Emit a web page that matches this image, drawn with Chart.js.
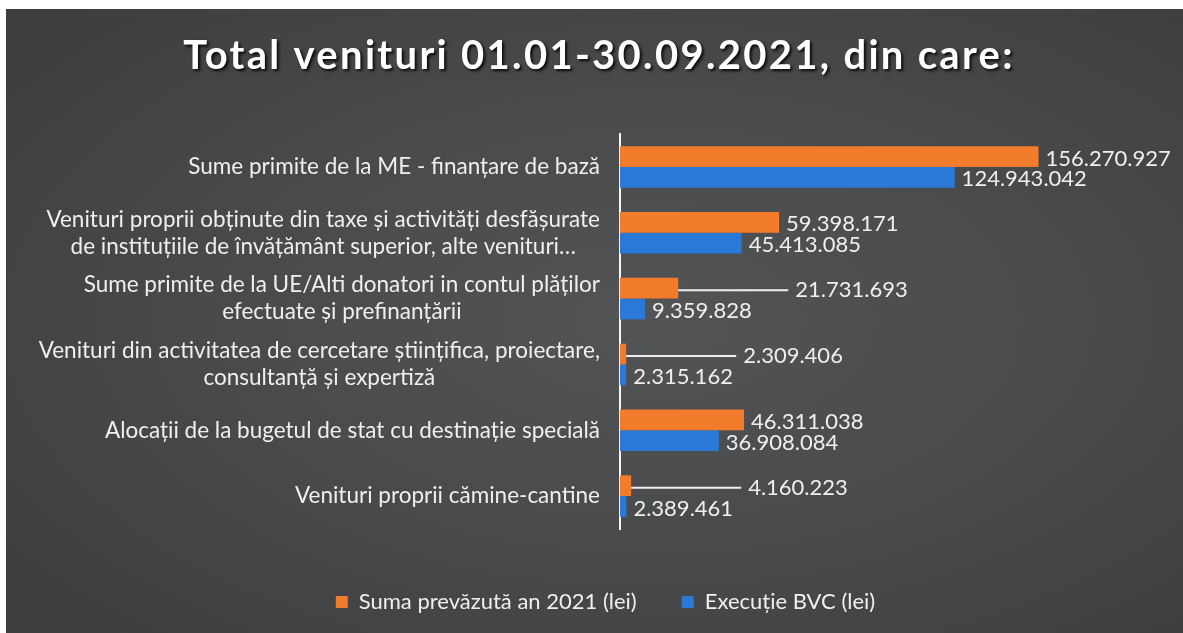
<!DOCTYPE html>
<html><head><meta charset="utf-8">
<script src="https://cdn.jsdelivr.net/npm/chart.js@4.4.0/dist/chart.umd.min.js"></script>
<style>
html,body{margin:0;padding:0;background:#ffffff;width:1183px;height:633px;overflow:hidden}
#wrap{position:absolute;left:6px;top:9px;width:1177px;height:624px;
background:radial-gradient(ellipse 70% 70% at 55% 50%, #535455 0%, #48494a 55%, #3c3e3f 100%);}
</style></head><body><div id="wrap"><canvas id="c"></canvas></div>
<script>
const titleText = 'Total venituri 01.01-30.09.2021, din care:';
const categories = [
  'Sume primite de la ME - finanțare de bază',
  ['Venituri proprii obținute din taxe și activități desfășurate', 'de instituțiile de învățământ superior, alte venituri…'],
  ['Sume primite de la UE/Alti donatori in contul plăților', 'efectuate și prefinanțării'],
  ['Venituri din activitatea de cercetare științifica, proiectare,', 'consultanță și expertiză'],
  'Alocații de la bugetul de stat cu destinație specială',
  'Venituri proprii cămine-cantine'
];
const seriesNames = ['Suma prevăzută an 2021 (lei)', 'Execuție BVC (lei)'];
const plannedValues = [156270927, 59398171, 21731693, 2309406, 46311038, 4160223];
const executedValues = [124943042, 45413085, 9359828, 2315162, 36908084, 2389461];

const FONT = 'Lato, "Open Sans", sans-serif';
const fmt = v => String(v).replace(/\B(?=(\d{3})+(?!\d))/g, '.');

const customDraw = {
  id: 'customDraw',
  afterDatasetsDraw(chart) {
    const ctx = chart.ctx;
    ctx.save();
    ctx.font = '22px ' + FONT;
    ctx.fillStyle = '#efefef';
    ctx.strokeStyle = '#efefef';
    ctx.lineWidth = 2;
    ctx.textBaseline = 'middle';
    ctx.textAlign = 'left';
    chart.data.datasets.forEach((ds, di) => {
      const meta = chart.getDatasetMeta(di);
      meta.data.forEach((bar, i) => {
        const y = bar.y + 2;
        let x = bar.x + 7;
        if (di === 0 && bar.x - bar.base < 80) {
          ctx.beginPath();
          ctx.moveTo(bar.x, y);
          ctx.lineTo(bar.x + 110, y);
          ctx.stroke();
          x = bar.x + 117;
        }
        ctx.fillText(fmt(ds.data[i]), x, y);
      });
    });
    ctx.restore();
  },
  afterDraw(chart) {
    const ctx = chart.ctx;
    ctx.save();
    ctx.font = 'bold 40px ' + FONT;
    ctx.letterSpacing = '2.3px';
    ctx.fillStyle = '#ffffff';
    ctx.textAlign = 'center';
    ctx.textBaseline = 'middle';
    ctx.shadowColor = 'rgba(0,0,0,0.85)';
    ctx.shadowOffsetX = 2; ctx.shadowOffsetY = 2; ctx.shadowBlur = 3;
    ctx.fillText(titleText, 593, 47);
    ctx.restore();

    const yScale = chart.scales.y;
    ctx.save();
    ctx.font = '22.5px ' + FONT;
    ctx.fillStyle = '#efefef';
    ctx.textAlign = 'center';
    ctx.textBaseline = 'middle';
    const right = chart.chartArea.left - 20;
    categories.forEach((lab, i) => {
      const lines = Array.isArray(lab) ? lab : [lab];
      const w = Math.max(...lines.map(l => ctx.measureText(l).width));
      const cy = yScale.getPixelForValue(i);
      const lh = 27;
      lines.forEach((l, j) => {
        ctx.fillText(l, right - w / 2, cy + (j - (lines.length - 1) / 2) * lh);
      });
    });
    ctx.restore();
  }
};

new Chart(document.getElementById('c'), {
  type: 'bar',
  data: {
    labels: categories,
    datasets: [
      { label: seriesNames[0], data: plannedValues, backgroundColor: '#F27B2C', categoryPercentage: 0.63, barPercentage: 1.0 },
      { label: seriesNames[1], data: executedValues, backgroundColor: '#2A79D8', categoryPercentage: 0.63, barPercentage: 1.0 }
    ]
  },
  options: {
    indexAxis: 'y',
    responsive: true,
    maintainAspectRatio: false,
    animation: false,
    layout: { padding: { top: 125, right: 22, bottom: 10, left: 44 } },
    scales: {
      x: {
        min: 0, max: 202000000,
        ticks: { display: false },
        grid: { display: false },
        border: { display: false },
        afterFit(s) { s.height = 17; }
      },
      y: {
        ticks: { display: false },
        grid: { display: false },
        border: { display: true, color: '#f5f5f5', width: 2 },
        afterFit(s) { s.width = 570; }
      }
    },
    plugins: {
      title: { display: false },
      tooltip: { enabled: false },
      legend: {
        position: 'bottom',
        labels: {
          color: '#efefef',
          font: { family: FONT, size: 22 },
          boxWidth: 12, boxHeight: 12,
          padding: 45
        }
      }
    }
  },
  plugins: [customDraw]
});
</script>
</body></html>
